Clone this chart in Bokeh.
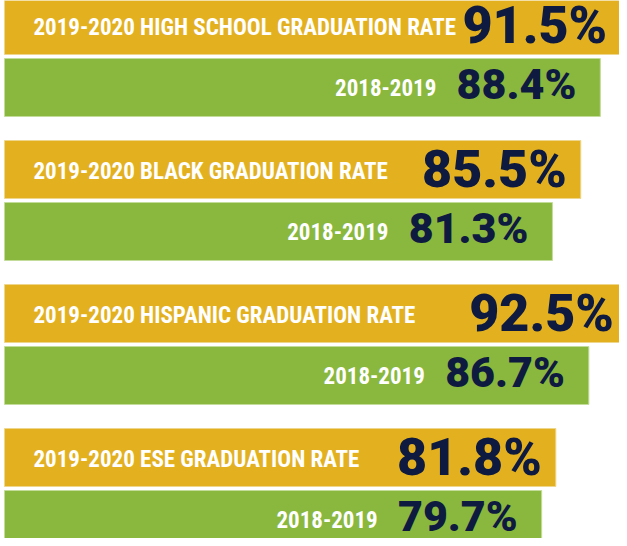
from bokeh.plotting import figure
from bokeh.models import Range1d, ColumnDataSource
from bokeh.core.properties import value
from bokeh.embed import file_html
from bokeh.resources import INLINE

# ---- data ----
current_labels = [
    "2019-2020 HIGH SCHOOL GRADUATION RATE",
    "2019-2020  BLACK GRADUATION RATE",
    "2019-2020  HISPANIC GRADUATION RATE",
    "2019-2020 ESE GRADUATION RATE",
]
previous_label = "2018-2019"
rate_2020 = [91.5, 85.5, 92.5, 81.8]
rate_2019 = [88.4, 81.3, 86.7, 79.7]

# ---- styling / layout ----
GOLD = "#E3B120"
GREEN = "#8AB83E"
NAVY = "#0E1A40"
COND = ("'Noto Sans ExtraCondensed', 'Noto Sans Condensed', 'Roboto Condensed', "
        "'Open Sans Condensed', 'DejaVu Sans Condensed', sans-serif")
HEAVY = "'Roboto Black', 'Inter Black', 'Open Sans ExtraBold', 'Open Sans', sans-serif"

W, H = 619, 538
PX_PER_PCT = 6.74
LEFT_PAD = 4
ROW_PITCH = 144
GOLD_CENTER = 25
GREEN_CENTER = 87
BAR_H = 58

rows = list(range(len(rate_2020)))
gold_y = [GOLD_CENTER + ROW_PITCH * r for r in rows]
green_y = [GREEN_CENTER + ROW_PITCH * r for r in rows]

gold_src = ColumnDataSource(dict(
    y=gold_y, v=rate_2020, label=current_labels,
    num=[f"{v}%" for v in rate_2020], zero=[0] * len(rows)))
green_src = ColumnDataSource(dict(
    y=green_y, v=rate_2019, label=[previous_label] * len(rows),
    num=[f"{v}%" for v in rate_2019], zero=[0] * len(rows)))

p = figure(width=W, height=H,
           x_range=Range1d(-LEFT_PAD / PX_PER_PCT, (W - LEFT_PAD) / PX_PER_PCT),
           y_range=Range1d(H, 0), output_backend="svg",
           toolbar_location=None, min_border=0,
           x_axis_location=None, y_axis_location=None)
p.grid.visible = False
p.outline_line_color = None
p.background_fill_color = "white"
p.border_fill_color = "white"

p.hbar(y="y", left="zero", right="v", height=BAR_H, source=gold_src,
       fill_color=GOLD, line_color="#EED68C", line_width=1)
p.hbar(y="y", left="zero", right="v", height=BAR_H, source=green_src,
       fill_color=GREEN, line_color="#C4DC9A", line_width=1)

p.text(x="zero", y="y", text="label", source=gold_src, x_offset=29, y_offset=2,
       text_align="left", text_baseline="middle", text_color="white",
       text_font=value(COND), text_font_style="bold", text_font_size="23px")
p.text(x="v", y="y", text="num", source=gold_src, x_offset=-14, y_offset=0,
       text_align="right", text_baseline="middle", text_color=NAVY,
       text_font=value(HEAVY), text_font_style="bold", text_font_size="52px")

p.text(x="v", y="y", text="label", source=green_src, x_offset=-164, y_offset=0,
       text_align="right", text_baseline="middle", text_color="white",
       text_font=value(COND), text_font_style="bold", text_font_size="23px")
p.text(x="v", y="y", text="num", source=green_src, x_offset=-24, y_offset=-4,
       text_align="right", text_baseline="middle", text_color=NAVY,
       text_font=value(HEAVY), text_font_style="bold", text_font_size="43px")

open("out.html", "w").write(file_html(p, INLINE))
